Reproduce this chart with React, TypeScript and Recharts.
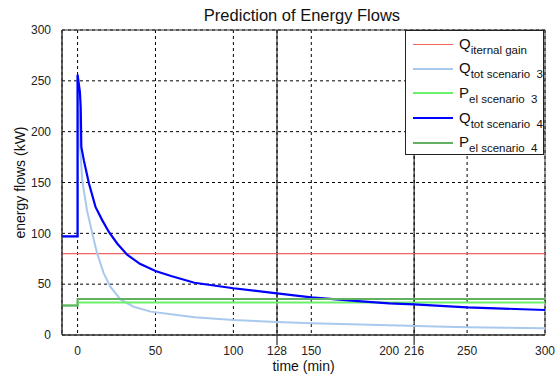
import { LineChart, Line, XAxis, YAxis, CartesianGrid, ReferenceLine, ReferenceArea } from "recharts"

// values (time in min, flows in kW)
const timeTicks = [0, 50, 100, 128, 150, 200, 216, 250, 300]
const flowTicks = [0, 50, 100, 150, 200, 250, 300]

const gainTime = [-10, 300]
const gainFlow = [80, 80]

const qTot3Time = [-10, 0, 0, 1, 1.5, 3, 6, 9.4, 12.6, 16.8, 21, 27.5, 36, 47, 60, 75, 100, 128, 150, 175, 200, 230, 250, 275, 300]
const qTot3Flow = [97, 97, 255, 215, 188, 152, 123, 100, 80, 60.6, 47.5, 35, 27.8, 23, 20.4, 17.4, 14.7, 12.8, 11.5, 10.5, 9.6, 8.4, 7.6, 7.1, 6.6]

const pEl3Time = [-10, 0, 0, 300]
const pEl3Flow = [29, 29, 32, 32]

const qTot4Time = [-10, 0, 0, 1.5, 2, 2.4, 4, 7.3, 11.5, 15.8, 20, 25.4, 31.8, 40, 50, 60, 75, 100, 128, 150, 180, 200, 216, 250, 300]
const qTot4Flow = [97, 97, 256, 239, 224, 185, 172, 149, 126, 113, 101.6, 90, 79, 70, 63, 58, 51.4, 46, 41, 37, 33.4, 31.2, 30.2, 27.2, 24.6]

const pEl4Time = [-10, 0, 0, 300]
const pEl4Flow = [29, 29, 35.5, 35.5]

const zip = (ts: number[], vs: number[]) => ts.map((t, i) => ({ t, v: vs[i] }))

const series = [
  { key: "gain", main: "Q", sub: "iternal gain", color: "#f26464", width: 1.2, data: zip(gainTime, gainFlow) },
  { key: "qtot3", main: "Q", sub: "tot scenario  3", color: "#a9c9ef", width: 2, data: zip(qTot3Time, qTot3Flow) },
  { key: "pel3", main: "P", sub: "el scenario  3", color: "#6af06a", width: 2, data: zip(pEl3Time, pEl3Flow) },
  { key: "qtot4", main: "Q", sub: "tot scenario  4", color: "#0000ff", width: 2.2, data: zip(qTot4Time, qTot4Flow) },
  { key: "pel4", main: "P", sub: "el scenario  4", color: "#62b062", width: 2, data: zip(pEl4Time, pEl4Flow) },
]

const font = "'Liberation Sans', Arial, sans-serif"
const tickStyle = { fill: "#222", fontSize: 12, fontFamily: font }

export default function App() {
  return (
    <div style={{ position: "relative", width: 558, height: 374, background: "#fff", fontFamily: font }}>
      <style>{"body{margin:0}"}</style>
      <div
        style={{
          position: "absolute",
          top: 6,
          left: 0,
          width: 604,
          textAlign: "center",
          fontSize: 16.5,
          color: "#111",
        }}
      >
        Prediction of Energy Flows
      </div>
      <LineChart width={558} height={374} margin={{ top: 30, right: 13, left: 0, bottom: 0 }}>
        <CartesianGrid stroke="#000" strokeDasharray="3 3" strokeWidth={1} />
        <XAxis
          type="number"
          dataKey="t"
          domain={[-10, 300]}
          ticks={timeTicks}
          allowDuplicatedCategory={false}
          tick={tickStyle}
          tickLine={false}
          axisLine={{ stroke: "#333" }}
          height={39}
          tickMargin={5}
          label={{ value: "time (min)", position: "insideBottom", offset: 3, fill: "#111", fontSize: 14, fontFamily: font }}
        />
        <YAxis
          type="number"
          domain={[0, 300]}
          ticks={flowTicks}
          tick={tickStyle}
          tickLine={false}
          axisLine={{ stroke: "#333" }}
          width={62}
          tickMargin={5}
          label={{
            value: "energy flows (kW)",
            angle: -90,
            position: "insideLeft",
            offset: 20,
            fill: "#111",
            fontSize: 14,
            fontFamily: font,
            style: { textAnchor: "middle" },
          }}
        />
        <ReferenceArea x1={-10} x2={300} y1={0} y2={300} fill="none" stroke="#333" strokeWidth={1} />
        <ReferenceLine
          segment={[{ x: 128, y: -10 }, { x: 128, y: 300 }]}
          stroke="#000"
          strokeWidth={1}
          ifOverflow="visible"
        />
        <ReferenceLine
          segment={[{ x: 216, y: -10 }, { x: 216, y: 300 }]}
          stroke="#000"
          strokeWidth={1}
          ifOverflow="visible"
        />
        {series.map((s) => (
          <Line
            key={s.key}
            data={s.data}
            dataKey="v"
            type="linear"
            stroke={s.color}
            strokeWidth={s.width}
            dot={false}
            activeDot={false}
            isAnimationActive={false}
          />
        ))}
      </LineChart>
      <div
        style={{
          position: "absolute",
          left: 405,
          top: 30,
          width: 139,
          height: 125,
          background: "#fff",
          border: "1px solid #222",
          boxSizing: "border-box",
          paddingTop: 1,
        }}
      >
        {series.map((s) => (
          <div key={s.key} style={{ display: "flex", alignItems: "center", height: 24.6 }}>
            <span
              style={{
                display: "inline-block",
                width: 40,
                marginLeft: 7,
                marginRight: 6,
                borderTop: `${Math.max(1, Math.round(s.width))}px solid ${s.color}`,
              }}
            />
            <span style={{ fontSize: 15, color: "#111", whiteSpace: "pre", lineHeight: "15px" }}>
              {s.main}
              <span style={{ fontSize: 11.5, position: "relative", top: 5 }}>{s.sub}</span>
            </span>
          </div>
        ))}
      </div>
    </div>
  )
}
